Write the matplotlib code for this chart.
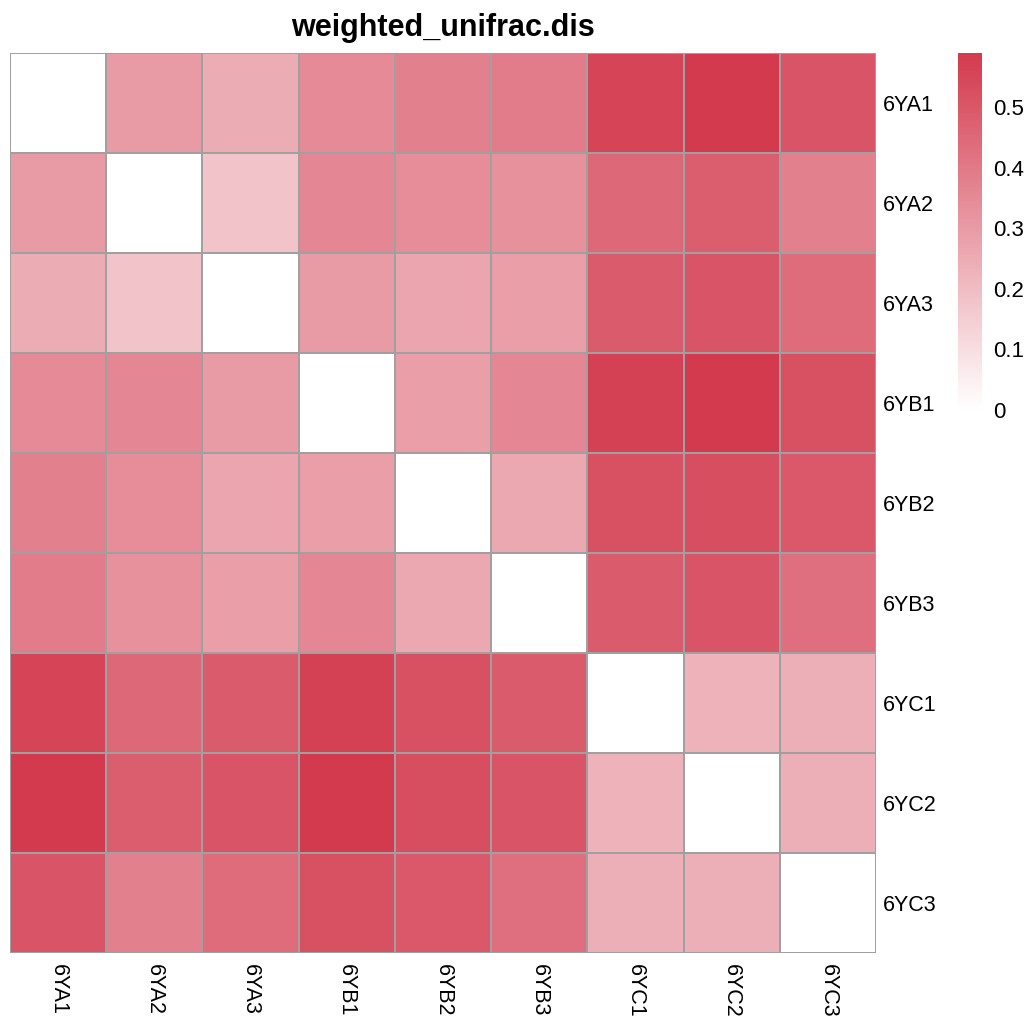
"""Weighted UniFrac distance heatmap for the 6Y samples."""

import matplotlib.pyplot as plt
import numpy as np
from matplotlib.colors import LinearSegmentedColormap

plt.rcParams["font.family"] = ["Liberation Sans", "DejaVu Sans"]

samples = ["6YA1", "6YA2", "6YA3", "6YB1", "6YB2", "6YB3", "6YC1", "6YC2", "6YC3"]

# pairwise weighted unifrac distances (symmetric, zero diagonal)
row_6YA1 = [0.00, 0.30, 0.25, 0.35, 0.38, 0.39, 0.56, 0.59, 0.51]
row_6YA2 = [0.30, 0.00, 0.18, 0.36, 0.34, 0.33, 0.45, 0.48, 0.38]
row_6YA3 = [0.25, 0.18, 0.00, 0.30, 0.27, 0.29, 0.49, 0.51, 0.44]
row_6YB1 = [0.35, 0.36, 0.30, 0.00, 0.29, 0.36, 0.57, 0.59, 0.52]
row_6YB2 = [0.38, 0.34, 0.27, 0.29, 0.00, 0.26, 0.52, 0.53, 0.50]
row_6YB3 = [0.39, 0.33, 0.29, 0.36, 0.26, 0.00, 0.49, 0.51, 0.43]
row_6YC1 = [0.56, 0.45, 0.49, 0.57, 0.52, 0.49, 0.00, 0.23, 0.24]
row_6YC2 = [0.59, 0.48, 0.51, 0.59, 0.53, 0.51, 0.23, 0.00, 0.24]
row_6YC3 = [0.51, 0.38, 0.44, 0.52, 0.50, 0.43, 0.24, 0.24, 0.00]

dist = np.array([row_6YA1, row_6YA2, row_6YA3, row_6YB1, row_6YB2,
                 row_6YB3, row_6YC1, row_6YC2, row_6YC3])

cmap = LinearSegmentedColormap.from_list("wr", ["#FFFFFF", "#D33A4E"])
vmax = dist.max()

fig = plt.figure(figsize=(10.28, 10.19), dpi=100)
W, H = 1028, 1019
ax = fig.add_axes([10 / W, 1 - 953 / H, 866 / W, 900 / H])
cax = fig.add_axes([958 / W, 1 - 410 / H, 24 / W, 357 / H])

n = len(samples)
mesh = ax.pcolormesh(dist, cmap=cmap, vmin=0, vmax=vmax,
                     edgecolors="#A0A0A0", linewidth=1.2)
ax.set_xlim(0, n)
ax.set_ylim(n, 0)
for s in ax.spines.values():
    s.set_visible(False)

ax.set_xticks(np.arange(n) + 0.5)
ax.set_xticklabels(samples, rotation=270, fontsize=15.5, va="top", ha="center")
ax.set_yticks(np.arange(n) + 0.5)
ax.set_yticklabels(samples, fontsize=15.5)
ax.yaxis.tick_right()
ax.tick_params(axis="y", length=0, pad=5)
ax.tick_params(axis="x", length=0, pad=8)

ax.set_title("weighted_unifrac.dis", fontsize=22, fontweight="bold", pad=12)

cb = fig.colorbar(mesh, cax=cax)
cb.outline.set_visible(False)
cb.set_ticks([0, 0.1, 0.2, 0.3, 0.4, 0.5])
cb.set_ticklabels(["0", "0.1", "0.2", "0.3", "0.4", "0.5"])
cb.ax.tick_params(length=0, labelsize=16, pad=8)

fig.savefig("out.png", dpi=100)
